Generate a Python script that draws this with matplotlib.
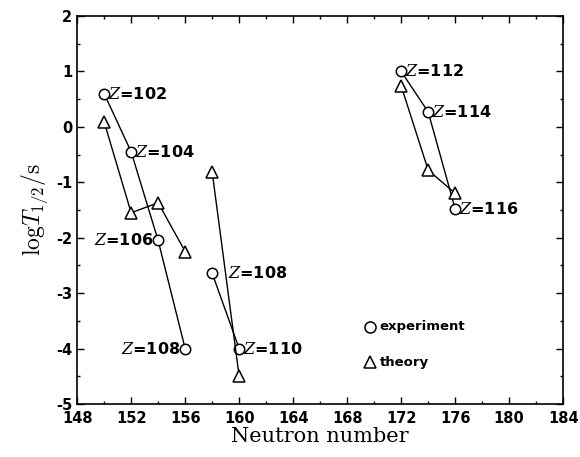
import matplotlib
matplotlib.use("Agg")
import matplotlib.pyplot as plt
from matplotlib.ticker import MultipleLocator

plt.rcParams['mathtext.fontset'] = 'cm'

# Experiment chains (neutron number, log T1/2)
exp_n1 = [150, 152, 154, 156]
exp_v1 = [0.6, -0.45, -2.05, -4.0]
exp_n2 = [158, 160]
exp_v2 = [-2.64, -4.0]
exp_n3 = [172, 174, 176]
exp_v3 = [1.0, 0.27, -1.48]

# Theory chains
th_n1 = [150, 152, 154, 156]
th_v1 = [0.09, -1.55, -1.37, -2.25]
th_n2 = [158, 160]
th_v2 = [-0.81, -4.5]
th_n3 = [172, 174, 176]
th_v3 = [0.74, -0.78, -1.2]

# Labels
label_texts = ["102", "104", "106", "108", "108", "110", "112", "114", "116"]
label_n = [150, 152, 154, 156, 158, 160, 172, 174, 176]
label_v = [0.6, -0.45, -2.05, -4.0, -2.64, -4.0, 1.0, 0.27, -1.48]
label_side = ["r", "r", "l", "l", "r2", "r", "r", "r", "r"]

xticks = [148, 152, 156, 160, 164, 168, 172, 176, 180, 184]
yticks = [-5, -4, -3, -2, -1, 0, 1, 2]

fig = plt.figure(figsize=(5.8, 4.57), dpi=100)
ax = fig.add_axes([0.133, 0.116, 0.838, 0.849])

mk = dict(color='black', lw=1.0, markerfacecolor='white', markeredgecolor='black',
          markeredgewidth=1.1)
for n, v in [(exp_n1, exp_v1), (exp_n2, exp_v2), (exp_n3, exp_v3)]:
    ax.plot(n, v, marker='o', markersize=7.5, zorder=3, **mk)
for n, v in [(th_n1, th_v1), (th_n2, th_v2), (th_n3, th_v3)]:
    ax.plot(n, v, marker='^', markersize=8, zorder=3, **mk)

for t, n, v, s in zip(label_texts, label_n, label_v, label_side):
    txt = r"$Z$=" + t
    kw = dict(fontsize=11.5, fontweight='bold', family='DejaVu Sans', va='center',
              math_fontfamily='dejavuserif')
    if s == "r":
        ax.text(n + 0.3, v, txt, ha='left', **kw)
    elif s == "r2":
        ax.text(n + 1.2, v, txt, ha='left', **kw)
    else:
        ax.text(n - 0.35, v, txt, ha='right', **kw)

# Legend drawn inside
lk = dict(markerfacecolor='white', markeredgecolor='black', markeredgewidth=1.1, linestyle='none')
ax.plot([169.7], [-3.61], marker='o', markersize=8, **lk)
ax.plot([169.7], [-4.25], marker='^', markersize=8, **lk)
ax.text(170.4, -3.61, "experiment", fontsize=9.5, fontweight='bold', va='center', ha='left')
ax.text(170.4, -4.25, "theory", fontsize=9.5, fontweight='bold', va='center', ha='left')

ax.set_xlim(148, 184)
ax.set_ylim(-5, 2)
ax.set_xticks(xticks)
ax.set_yticks(yticks)
ax.set_yticklabels([str(y) for y in yticks])
ax.xaxis.set_minor_locator(MultipleLocator(2))
ax.yaxis.set_minor_locator(MultipleLocator(0.5))
ax.tick_params(which='both', direction='in', top=True, right=True)
ax.tick_params(which='major', length=5, width=1.0, labelsize=10.5)
ax.tick_params(axis='x', which='major', pad=5)
ax.tick_params(which='minor', length=2.5, width=1.0)
for lab in ax.get_xticklabels() + ax.get_yticklabels():
    lab.set_fontweight('bold')
for sp in ax.spines.values():
    sp.set_linewidth(1.2)

ax.set_xlabel("Neutron number", family='DejaVu Serif', fontsize=15, labelpad=1)
ax.set_ylabel(r"$\mathrm{log}T_{1/2}/\mathrm{s}$", fontsize=17, labelpad=4)

fig.savefig("out.png", dpi=100)
